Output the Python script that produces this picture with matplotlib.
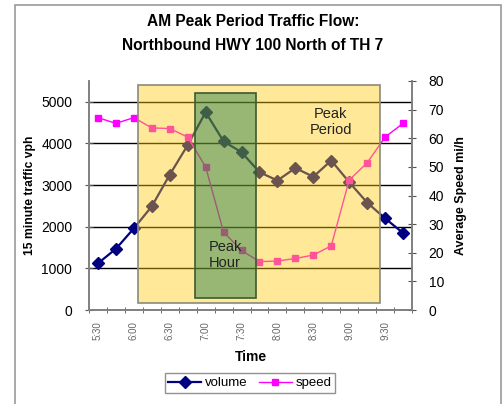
import matplotlib
matplotlib.use("Agg")
import matplotlib.pyplot as plt
from matplotlib.patches import Rectangle
import numpy as np

plt.rcParams['font.family'] = ['Liberation Sans', 'DejaVu Sans']

times = ["5:30", "5:45", "6:00", "6:15", "6:30", "6:45", "7:00", "7:15", "7:30",
         "7:45", "8:00", "8:15", "8:30", "8:45", "9:00", "9:15", "9:30", "9:45"]
volume = [1120, 1470, 1960, 2490, 3250, 3960, 4750, 4050, 3790, 3310, 3110,
          3410, 3200, 3590, 3070, 2580, 2200, 1850]
speed = [67.2, 65.2, 67.2, 63.6, 63.4, 60.4, 50.0, 27.2, 20.8, 16.9, 17.1,
         18.0, 19.2, 22.4, 45.4, 51.4, 60.4, 65.2]
label_times = times[::2]

fig = plt.figure(figsize=(5.03, 4.04), dpi=100)
fig.patches.append(Rectangle((15/503, -0.05), (501-15)/503, 1.05 - 5/404,
                             transform=fig.transFigure, fill=False,
                             edgecolor='#9a9a9a', linewidth=1.2))

ax = fig.add_axes([89/503, 1 - 310/404, 323/503, 229/404])
ax2 = ax.twinx()

x = np.arange(len(times))
ax.plot(x, volume, color='#000080', marker='D', markersize=6, linewidth=1.6,
        label='volume', zorder=3)
ax2.plot(x, speed, color='#FF00FF', marker='s', markersize=4, linewidth=1.0,
         label='speed', zorder=3)

ax.set_xlim(-0.5, len(times) - 0.5)
ax.set_ylim(0, 5500)
ax.set_yticks([0, 1000, 2000, 3000, 4000, 5000])
ax2.set_ylim(0, 80)
ax2.set_yticks(range(0, 81, 10))
ax.yaxis.grid(True, color='black', linewidth=1.0)
ax.set_axisbelow(True)

ax.set_xticks(x[::2])
ax.set_xticklabels(label_times, rotation=90, fontsize=7, color='#666666')
ax.set_xticks(np.arange(-0.5, len(times), 1), minor=True)
ax.tick_params(axis='x', which='major', length=0, pad=8)
ax.tick_params(axis='x', which='minor', length=4, direction='inout', color='#555555')
ax.tick_params(axis='y', length=6, direction='inout', labelsize=10, color='#555555', pad=9)
ax2.tick_params(axis='y', length=6, direction='inout', labelsize=10, color='#555555', pad=9)

for a in (ax, ax2):
    a.spines['top'].set_visible(False)
    for s in ('left', 'right', 'bottom'):
        a.spines[s].set_color('#808080')
        a.spines[s].set_linewidth(1.2)

ax.set_xlabel('Time', fontsize=10, fontweight='bold', labelpad=7)
ax.set_ylabel('15 minute traffic vph', fontsize=8.7, fontweight='bold', labelpad=4)
ax2.set_ylabel('Average Speed mi/h', fontsize=9, fontweight='bold', labelpad=8)

# shaded regions drawn over the lines (semi-transparent)
ax2.add_patch(Rectangle((0.152, 0.031), 0.901 - 0.152, 0.983 - 0.031,
                        transform=ax2.transAxes, facecolor=(1.0, 0.79, 0.03),
                        alpha=0.42, edgecolor='none', zorder=5))
ax2.add_patch(Rectangle((0.152, 0.031), 0.901 - 0.152, 0.983 - 0.031,
                        transform=ax2.transAxes, fill=False,
                        edgecolor='#8a8a7a', linewidth=1.2, zorder=6))
ax2.add_patch(Rectangle((0.328, 0.052), 0.517 - 0.328, 0.948 - 0.052,
                        transform=ax2.transAxes, facecolor=(0.0, 0.43, 0.25),
                        alpha=0.4, edgecolor='none', zorder=7))
ax2.add_patch(Rectangle((0.328, 0.052), 0.517 - 0.328, 0.948 - 0.052,
                        transform=ax2.transAxes, fill=False,
                        edgecolor='#3d5a30', linewidth=1.2, zorder=8))
ax2.text(0.749, 0.821, 'Peak\nPeriod', transform=ax2.transAxes, ha='center',
         va='center', fontsize=10.5, color='#222222', linespacing=1.25, zorder=9)
ax2.text(0.421, 0.24, 'Peak\nHour', transform=ax2.transAxes, ha='center',
         va='center', fontsize=10.5, color='#222222', linespacing=1.25, zorder=9)

fig.text(253/503, 1 - 22/404, 'AM Peak Period Traffic Flow:', ha='center',
         va='center', fontsize=11.2, fontweight='bold')
fig.text(253/503, 1 - 46/404, 'Northbound HWY 100 North of TH 7', ha='center',
         va='center', fontsize=11.2, fontweight='bold')

h1, l1 = ax.get_legend_handles_labels()
h2, l2 = ax2.get_legend_handles_labels()
fig.legend(h1 + h2, l1 + l2, loc='center', bbox_to_anchor=(250/503, 1 - 383/404),
           ncol=2, fontsize=9.5, frameon=True, fancybox=False, edgecolor='#777777',
           handlelength=2.5, handletextpad=0.3, columnspacing=0.8,
           borderpad=0.3)

fig.savefig('out.png', dpi=100)
